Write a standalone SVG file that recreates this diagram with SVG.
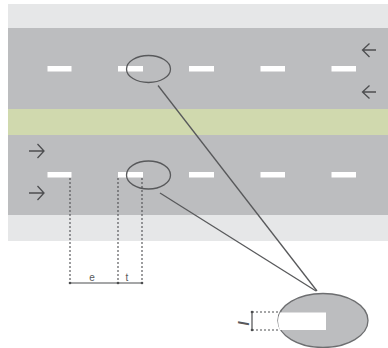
<svg xmlns="http://www.w3.org/2000/svg" width="388" height="348" viewBox="0 0 388 348">
<style>
.dash{fill:#fff}
.arr{fill:none;stroke:#4d4e50;stroke-width:1.3}
.lead{fill:none;stroke:#58595b;stroke-width:1.3}
.dot{fill:none;stroke:#4d4e50;stroke-width:1.1;stroke-dasharray:2 2}
.dim{fill:none;stroke:#4d4e50;stroke-width:1.2}
.lbl{font-family:"Liberation Sans",sans-serif;fill:#58595b}
</style>
<rect id="shoulder-top" x="8" y="4" width="380" height="24" fill="#e6e7e8"/>
<rect id="road-top" x="8" y="28" width="380" height="81" fill="#bcbdbf"/>
<rect id="median" x="8" y="109" width="380" height="26" fill="#d0d9ae"/>
<rect id="road-bottom" x="8" y="135" width="380" height="80" fill="#bcbdbf"/>
<rect id="shoulder-bottom" x="8" y="215" width="380" height="26" fill="#e6e7e8"/>
<g id="dashes-top" class="dash">
<rect x="47.500" y="66" width="24" height="5.500"/><rect x="118" y="66" width="25" height="5.500"/><rect x="189" y="66" width="25" height="5.500"/><rect x="260.500" y="66" width="24.500" height="5.500"/><rect x="331.500" y="66" width="24.500" height="5.500"/>
</g>
<g id="dashes-bottom" class="dash">
<rect x="47.500" y="172" width="24" height="5.500"/><rect x="118" y="172" width="25" height="5.500"/><rect x="189" y="172" width="25" height="5.500"/><rect x="260.500" y="172" width="24.500" height="5.500"/><rect x="331.500" y="172" width="24.500" height="5.500"/>
</g>
<g id="arrows" class="arr">
<path d="M376 50H363M369.500 43.500L362.500 50L369.500 57"/>
<path d="M376 92H363M369.500 85.500L362.500 92L369.500 98.500"/>
<path d="M29 151H43.500M37.500 144L44 151L37.500 158"/>
<path d="M29 193H43.500M37.500 186L44 193L37.500 200"/>
</g>
<g id="connectors">
<path class="lead" d="M158 85.500L317 291"/>
<path class="lead" d="M160 193L316 291"/>
</g>
<g id="ellipse-top"><ellipse cx="148.500" cy="69" rx="22" ry="13.500" fill="none" stroke="#58595b" stroke-width="1.300"/></g>
<g id="ellipse-bottom"><ellipse cx="148.500" cy="175" rx="22" ry="14" fill="none" stroke="#58595b" stroke-width="1.300"/></g>
<g id="detail">
<ellipse cx="323" cy="320.500" rx="45" ry="27" fill="#bcbdbf" stroke="#6d6e70" stroke-width="1.300"/>
<path d="M326 312.500H280Q276 321 280 330H326Z" fill="#fff"/>
<path class="dot" d="M252 312H278M252 330H278"/>
<path class="dim" d="M252 311.500V331"/>
<circle cx="252" cy="312" r="1.300" fill="#4d4e50"/><circle cx="252" cy="330" r="1.300" fill="#4d4e50"/>
<text class="lbl" transform="translate(237.500 323) rotate(90)" text-anchor="middle" font-size="14" font-style="italic" font-weight="bold">l</text>
</g>
<g id="dimensions">
<path class="dot" d="M70 178V283M118 178V283M142 178V283"/>
<path class="dim" d="M70 283H142"/>
<circle cx="70" cy="283" r="1.300" fill="#4d4e50"/><circle cx="118" cy="283" r="1.300" fill="#4d4e50"/><circle cx="142" cy="283" r="1.300" fill="#4d4e50"/>
<text class="lbl" x="92" y="281" text-anchor="middle" font-size="10">e</text>
<text class="lbl" x="127" y="281" text-anchor="middle" font-size="10">t</text>
</g>
</svg>
